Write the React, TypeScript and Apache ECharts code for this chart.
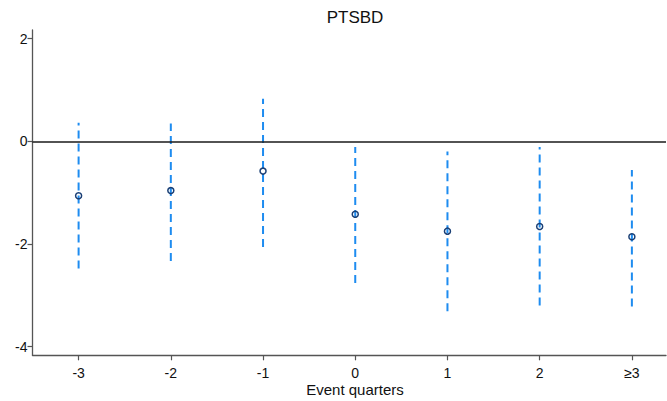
import React, { useEffect, useRef } from "react";
import * as echarts from "echarts";

const categories = ["-3", "-2", "-1", "0", "1", "2", "≥3"];
const estimates = [-1.06, -0.96, -0.58, -1.42, -1.75, -1.66, -1.86];
const ciLower = [-2.48, -2.33, -2.06, -2.76, -3.31, -3.2, -3.22];
const ciUpper = [0.36, 0.35, 0.83, -0.11, -0.2, -0.11, -0.56];
const yTicks = [-4, -2, 0, 2];
const titleText = "PTSBD";
const xTitle = "Event quarters";

export default function App() {
  const ref = useRef<HTMLDivElement>(null);
  useEffect(() => {
    if (!ref.current) return;
    const chart = echarts.init(ref.current, null, { renderer: "svg" });
    const font = "Liberation Sans, Arial, sans-serif";
    const xIdx = categories.map((_, i) => i);
    const ciData = categories.map((_, i) => [i, ciLower[i], ciUpper[i]]);
    chart.setOption({
      animation: false,
      backgroundColor: "#ffffff",
      title: {
        text: titleText,
        left: 355,
        textAlign: "center",
        top: 9,
        padding: 0,
        textStyle: { fontFamily: font, fontSize: 17, fontWeight: "normal", color: "#111" },
      },
      grid: { left: 32.5, top: 30, right: 1, height: 325.3 },
      xAxis: {
        type: "value",
        min: -0.5,
        max: 6.37,
        name: xTitle,
        nameLocation: "start",
        nameGap: 0,
        nameTextStyle: {
          fontFamily: font,
          fontSize: 15,
          color: "#111",
          align: "center",
          verticalAlign: "top",
          padding: [27, 0, 0, 645],
        },
        axisLine: { show: true, onZero: false, lineStyle: { color: "#555", width: 1.3 } },
        axisTick: { show: true, length: 5, customValues: xIdx, lineStyle: { color: "#555", width: 1.2 } },
        axisLabel: {
          fontFamily: font,
          fontSize: 14,
          color: "#111",
          margin: 11,
          customValues: xIdx,
          formatter: (v: number) => categories[Math.round(v)] ?? "",
        },
        splitLine: { show: false },
      },
      yAxis: {
        type: "value",
        min: -4.17,
        max: 2.17,
        axisLine: { show: true, onZero: false, lineStyle: { color: "#555", width: 1.3 } },
        axisTick: { show: true, length: 5, customValues: yTicks, lineStyle: { color: "#555", width: 1.2 } },
        axisLabel: {
          fontFamily: font,
          fontSize: 14,
          color: "#111",
          margin: 5,
          customValues: yTicks,
          formatter: (v: number) => String(v),
        },
        splitLine: { show: false },
      },
      series: [
        {
          type: "custom",
          data: ciData,
          z: 2,
          renderItem: (params: any, api: any) => {
            const x = api.value(0);
            const lo = api.coord([x, api.value(1)]);
            const hi = api.coord([x, api.value(2)]);
            return {
              type: "line",
              shape: { x1: lo[0], y1: lo[1], x2: hi[0], y2: hi[1] },
              style: { stroke: "#1e8cf0", lineWidth: 2, lineDash: [8, 5] },
            };
          },
          silent: true,
        },
        {
          type: "scatter",
          data: estimates.map((v, i) => [i, v]),
          symbol: "circle",
          symbolSize: 6,
          z: 3,
          itemStyle: { color: "rgba(255,255,255,0)", borderColor: "#1a3f75", borderWidth: 1.5, opacity: 1 },
          markLine: {
            silent: true,
            symbol: ["none", "none"],
            label: { show: false },
            lineStyle: { color: "#1a1a1a", width: 1.6, type: "solid" },
            data: [{ yAxis: 0 }],
          },
        },
      ],
    });
    return () => chart.dispose();
  }, []);
  return (
    <div
      ref={ref}
      style={{ position: "fixed", left: 0, top: 0, width: 667, height: 401, overflow: "hidden" }}
    />
  );
}
